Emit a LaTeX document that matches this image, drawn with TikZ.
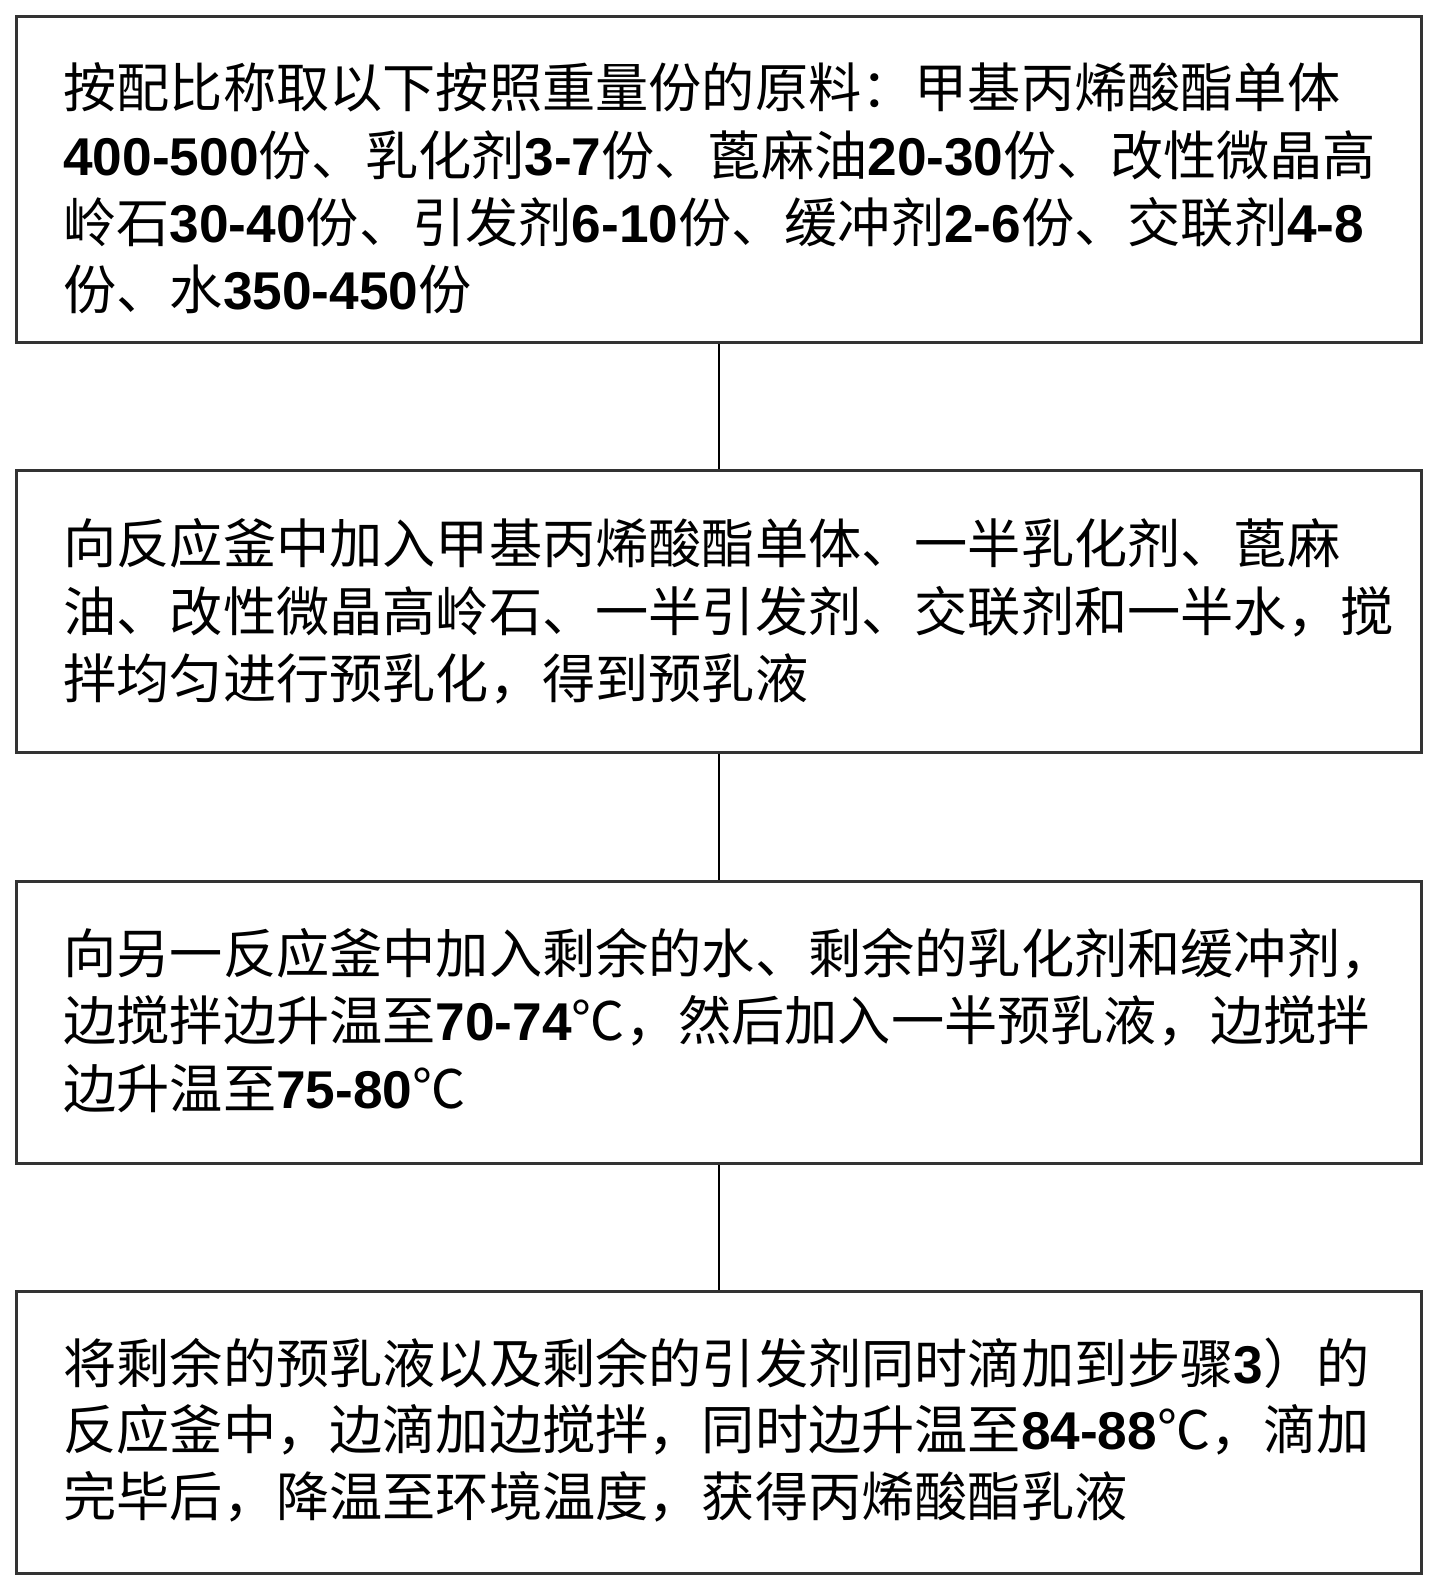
\documentclass[tikz,border=0pt]{standalone}
\usepackage{fontspec}
\setmainfont{Noto Sans CJK SC}
\newfontfamily\latf{Liberation Sans}
\newcommand\nm[1]{{\latf\bfseries #1}}
\begin{document}
\begin{tikzpicture}[x=0.5pt,y=-0.5pt,
  box/.style={draw=black!80, line width=1.4pt, rectangle, inner sep=0pt, anchor=north west, minimum width=702.5pt},
  txt/.style={anchor=base west, inner sep=0pt, font=\fontsize{26.6pt}{33pt}\selectfont},
  link/.style={draw=black, line width=1pt}]
\useasboundingbox[fill=white] (0,0) rectangle (1436,1588);
% boxes
\node[box, minimum height=163pt] (b1) at (15,15) {};
\node[box, minimum height=141pt] (b2) at (15,469) {};
\node[box, minimum height=141pt] (b3) at (15,880) {};
\node[box, minimum height=141pt] (b4) at (15,1290) {};
% connectors
\draw[link] (b1.south) -- (b2.north);
\draw[link] (b2.south) -- (b3.north);
\draw[link] (b3.south) -- (b4.north);
% box 1 text
\node[txt] (t11) at (63,108) {按配比称取以下按照重量份的原料：甲基丙烯酸酯单体};
\node[txt] (t12) at (63,176) {\nm{400-500}份、乳化剂\nm{3-7}份、蓖麻油\nm{20-30}份、改性微晶高};
\node[txt] (t13) at (63,243) {岭石\nm{30-40}份、引发剂\nm{6-10}份、缓冲剂\nm{2-6}份、交联剂\nm{4-8}};
\node[txt] (t14) at (63,310) {份、水\nm{350-450}份};
% box 2 text
\node[txt] (t21) at (63,563) {向反应釜中加入甲基丙烯酸酯单体、一半乳化剂、蓖麻};
\node[txt] (t22) at (63,631) {油、改性微晶高岭石、一半引发剂、交联剂和一半水，搅};
\node[txt] (t23) at (63,698) {拌均匀进行预乳化，得到预乳液};
% box 3 text
\node[txt] (t31) at (63,973) {向另一反应釜中加入剩余的水、剩余的乳化剂和缓冲剂，};
\node[txt] (t32) at (63,1040) {边搅拌边升温至\nm{70-74}℃，然后加入一半预乳液，边搅拌};
\node[txt] (t33) at (63,1108) {边升温至\nm{75-80}℃};
% box 4 text
\node[txt] (t41) at (63,1383) {将剩余的预乳液以及剩余的引发剂同时滴加到步骤\nm{3}）的};
\node[txt] (t42) at (63,1449) {反应釜中，边滴加边搅拌，同时边升温至\nm{84-88}℃，滴加};
\node[txt] (t43) at (63,1516) {完毕后，降温至环境温度，获得丙烯酸酯乳液};
\end{tikzpicture}
\end{document}
